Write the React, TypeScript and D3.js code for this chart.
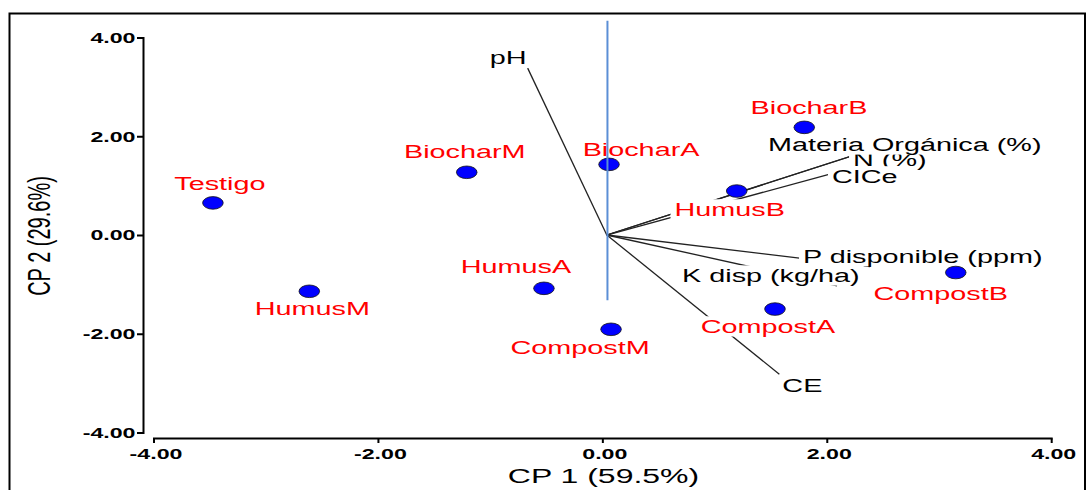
import React, { useEffect, useRef } from "react";
import * as d3 from "d3";

// ---- data ----
const obsNames = ["Testigo", "HumusM", "BiocharM", "HumusA", "BiocharA", "CompostM", "HumusB", "BiocharB", "CompostA", "CompostB"];
const obsCP1 = [-3.475, -2.616, -1.213, -0.525, 0.055, 0.073, 1.193, 1.795, 1.534, 3.145];
const obsCP2 = [0.66, -1.13, 1.28, -1.07, 1.44, -1.9, 0.9, 2.19, -1.49, -0.75];

const varNames = ["pH", "N (%)", "CICe", "Materia Orgánica (%)", "P disponible (ppm)", "K disp (kg/ha)", "CE"];
const varCP1 = [-0.67, 2.203, 2.015, 2.47, 2.381, 2.087, 1.573];
const varCP2 = [3.39, 1.6, 1.24, 1.795, -0.63, -1.02, -2.81];

const vectorOrigin = [0.035, 0.01];
const refLineX = 0.041;
const refLineY = [4.35, -1.31];

const xTicks = [-4, -2, 0, 2, 4];
const yTicks = [-4, -2, 0, 2, 4];
const xTitle = "CP 1 (59.5%)";
const yTitle = "CP 2 (29.6%)";

// ---- layout (label offsets in px from mark) ----
const obsLabelOffset: Record<string, [number, number]> = {
  Testigo: [7, -12.5],
  HumusM: [3, 24],
  BiocharM: [-2, -14],
  HumusA: [-28, -15],
  BiocharA: [32, -8.6],
  CompostM: [-31, 24.3],
  HumusB: [-7, 24.7],
  BiocharB: [4.7, -13],
  CompostA: [-7, 23.7],
  CompostB: [-15, 27],
};
const varLabelOffset: Record<string, [number, number, string]> = {
  pH: [-1, -4, "end"],
  "N (%)": [3, 9, "start"],
  CICe: [3, 8.4, "start"],
  "Materia Orgánica (%)": [-112, 4, "start"],
  "P disponible (ppm)": [-67, -4, "start"],
  "K disp (kg/ha)": [-155, -4, "start"],
  CE: [3, 17.7, "start"],
};

const W = 1089;
const H = 490;
const SX = 1.6; // horizontal stretch of the reference
const FONT = "'Liberation Sans', Arial, Helvetica, sans-serif";

export default function App() {
  const ref = useRef<SVGSVGElement | null>(null);

  useEffect(() => {
    const svg = d3.select(ref.current);
    svg.selectAll("*").remove();

    const x = d3.scaleLinear().domain([-4, 4]).range([154, 1051.7]);
    const y = d3.scaleLinear().domain([-4, 4]).range([433, 38]);

    svg.append("rect").attr("width", W).attr("height", H).attr("fill", "#fff");
    // frame
    svg.append("rect").attr("x", 9.5).attr("y", 13.5).attr("width", 1075.5).attr("height", 500)
      .attr("fill", "none").attr("stroke", "#000").attr("stroke-width", 2);

    const addText = (
      g: any, px: number, py: number, txt: string, anchor: string, size: number,
      color: string, weight = "normal", bg = false, rotate = 0
    ) => {
      const grp = g.append("g").attr("transform", `translate(${px},${py}) scale(${SX},1)${rotate ? ` rotate(${rotate})` : ""}`);
      const t = grp.append("text").attr("x", 0).attr("y", 0).attr("text-anchor", anchor)
        .attr("font-family", FONT).attr("font-size", size).attr("font-weight", weight)
        .attr("fill", color).text(txt);
      if (bg) {
        const bb = (t.node() as SVGTextElement).getBBox();
        grp.insert("rect", "text").attr("x", bb.x - 2.5).attr("y", bb.y).attr("width", bb.width + 5)
          .attr("height", bb.height).attr("fill", "#fff");
      }
      return grp;
    };

    // axes
    const ax = svg.append("g");
    ax.append("line").attr("x1", 143.5).attr("x2", 143.5).attr("y1", y(4) - 1).attr("y2", y(-4) + 1)
      .attr("stroke", "#000").attr("stroke-width", 2);
    yTicks.forEach((t) => {
      ax.append("line").attr("x1", 137).attr("x2", 143.5).attr("y1", y(t)).attr("y2", y(t))
        .attr("stroke", "#000").attr("stroke-width", 2);
      addText(ax, 135.5, y(t) + 4.8, t.toFixed(2), "end", 14.5, "#000", "bold");
    });
    ax.append("line").attr("x1", x(-4) - 1).attr("x2", x(4) + 1).attr("y1", 438.5).attr("y2", 438.5)
      .attr("stroke", "#000").attr("stroke-width", 2);
    xTicks.forEach((t) => {
      ax.append("line").attr("x1", x(t)).attr("x2", x(t)).attr("y1", 438.5).attr("y2", 443)
        .attr("stroke", "#000").attr("stroke-width", 2);
      addText(ax, x(t) + 2, 458.5, t.toFixed(2), "middle", 14.5, "#000", "bold");
    });
    addText(ax, 603.5, 482.5, xTitle, "middle", 20, "#000");
    addText(ax, 49.5, 236, yTitle, "middle", 20, "#000", "normal", false, -90);

    // vectors
    const ox = x(vectorOrigin[0]);
    const oy = y(vectorOrigin[1]);
    const vg = svg.append("g");
    varNames.forEach((n, i) => {
      vg.append("line").attr("x1", ox).attr("y1", oy).attr("x2", x(varCP1[i])).attr("y2", y(varCP2[i]))
        .attr("stroke", "#222").attr("stroke-width", 1.3);
    });

    // variable labels
    const lg = svg.append("g");
    varNames.forEach((n, i) => {
      const [dx, dy, anchor] = varLabelOffset[n];
      addText(lg, x(varCP1[i]) + dx, y(varCP2[i]) + dy, n, anchor, 18, "#000", "normal", true);
    });

    // observation labels
    obsNames.forEach((n, i) => {
      const [dx, dy] = obsLabelOffset[n];
      addText(lg, x(obsCP1[i]) + dx, y(obsCP2[i]) + dy, n, "middle", 18, "#ff0000", "normal", true);
    });

    // points
    const pg = svg.append("g");
    obsNames.forEach((n, i) => {
      pg.append("ellipse").attr("cx", x(obsCP1[i])).attr("cy", y(obsCP2[i])).attr("rx", 10.3).attr("ry", 6.3)
        .attr("fill", "#0000ff").attr("stroke", "#111").attr("stroke-width", 0.8);
    });

    // reference vertical line
    svg.append("line").attr("x1", x(refLineX)).attr("x2", x(refLineX)).attr("y1", y(refLineY[0])).attr("y2", y(refLineY[1]))
      .attr("stroke", "#5b8fd6").attr("stroke-width", 2);
  }, []);

  return (
    <svg ref={ref} width={W} height={H} style={{ position: "absolute", left: 0, top: 0, display: "block" }} />
  );
}
